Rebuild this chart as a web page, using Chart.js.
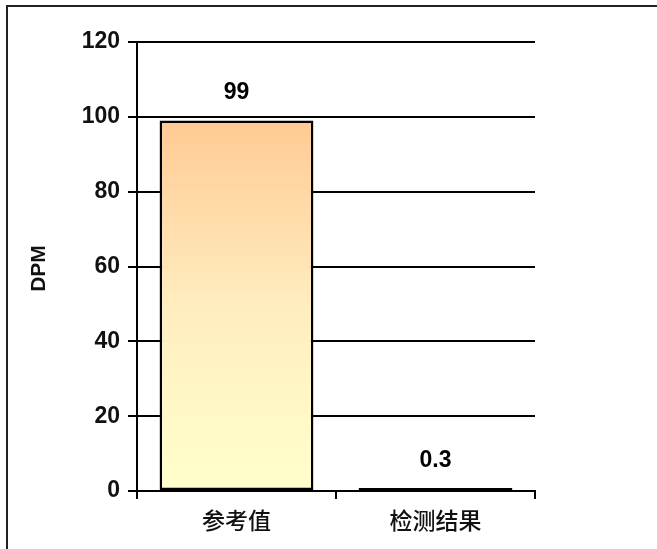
<!DOCTYPE html>
<html>
<head>
<meta charset="utf-8">
<script src="https://cdn.jsdelivr.net/npm/chart.js@4/dist/chart.umd.min.js"></script>
<style>
  html, body { margin: 0; padding: 0; background: #fff; }
  #wrap { position: relative; width: 657px; height: 549px; overflow: hidden; }
  #frame { position: absolute; left: 6px; top: 5px; width: 700px; height: 600px;
           border-left: 2px solid #222; border-top: 2px solid #222; }
  canvas { position: absolute; left: 0; top: 0; }
</style>
</head>
<body>
<div id="wrap">
  <div id="frame"></div>
  <canvas id="DPMChart" width="657" height="549"></canvas>
</div>
<script>
var categories = ["参考值", "检测结果"];
var dpmValues = [99, 0.3];
var yTicks = [0, 20, 40, 60, 80, 100, 120];
var yTitle = "DPM";

var latin = "'Liberation Sans', Arial, 'Noto Sans CJK SC', sans-serif";

// value labels above each bar + the rotated axis title
var valueLabels = {
    id: "valueLabels",
    afterDatasetsDraw: function (chart) {
        var ctx = chart.ctx;
        var meta = chart.getDatasetMeta(0);
        var area = chart.chartArea;
        ctx.save();
        ctx.font = "bold 23px " + latin;
        ctx.fillStyle = "#000";
        ctx.textAlign = "center";
        ctx.textBaseline = "bottom";
        meta.data.forEach(function (bar, i) {
            ctx.fillText(String(dpmValues[i]), bar.x, bar.y - 16);
        });

        ctx.translate(39, (area.top + area.bottom) / 2 + 2);
        ctx.rotate(-Math.PI / 2);
        ctx.font = "bold 21px " + latin;
        ctx.fillStyle = "#111";
        ctx.textBaseline = "middle";
        ctx.fillText(yTitle, 0, 0);
        ctx.restore();
    }
};

function barFill(context) {
    var chart = context.chart;
    var area = chart.chartArea;
    if (!area) return "#FFE6B0";
    var y = chart.scales.y;
    var g = chart.ctx.createLinearGradient(0, y.getPixelForValue(99), 0, y.getPixelForValue(0));
    g.addColorStop(0, "#FFCA94");
    g.addColorStop(0.5, "#FFEDBF");
    g.addColorStop(1, "#FFFFCC");
    return g;
}

var ctx = document.getElementById("DPMChart");

new Chart(ctx, {
    type: "bar",
    data: {
        labels: categories,
        datasets: [
            {
                label: "DPM",
                data: dpmValues,
                backgroundColor: barFill,
                borderColor: "#000",
                borderWidth: 2.5,
                borderSkipped: false,
                minBarLength: 3,
                barPercentage: 0.773,
                categoryPercentage: 1
            }
        ]
    },
    options: {
        responsive: false,
        animation: false,
        layout: { padding: { top: 42, right: 122, left: 0, bottom: 0 } },
        plugins: {
            legend: { display: false },
            tooltip: { enabled: false }
        },
        scales: {
            x: {
                afterFit: function (s) { s.height = 58; },
                grid: {
                    offset: true,
                    drawOnChartArea: false,
                    drawTicks: true,
                    tickLength: 8,
                    color: "#000",
                    lineWidth: 2
                },
                border: { color: "#000", width: 2 },
                ticks: {
                    color: "#111",
                    padding: 7,
                    font: { family: "'Noto Sans CJK SC', sans-serif", size: 23, weight: 500 }
                }
            },
            y: {
                min: 0,
                max: 120,
                afterFit: function (s) { s.width = 137; },
                afterBuildTicks: function (s) {
                    s.ticks = yTicks.map(function (v) { return { value: v }; });
                },
                grid: {
                    color: "#000",
                    lineWidth: 2,
                    drawTicks: true,
                    tickLength: 9
                },
                border: { color: "#000", width: 2 },
                ticks: {
                    color: "#111",
                    padding: 8,
                    font: { family: latin, size: 23, weight: "bold" }
                }
            }
        }
    },
    plugins: [valueLabels]
});
</script>
</body>
</html>
